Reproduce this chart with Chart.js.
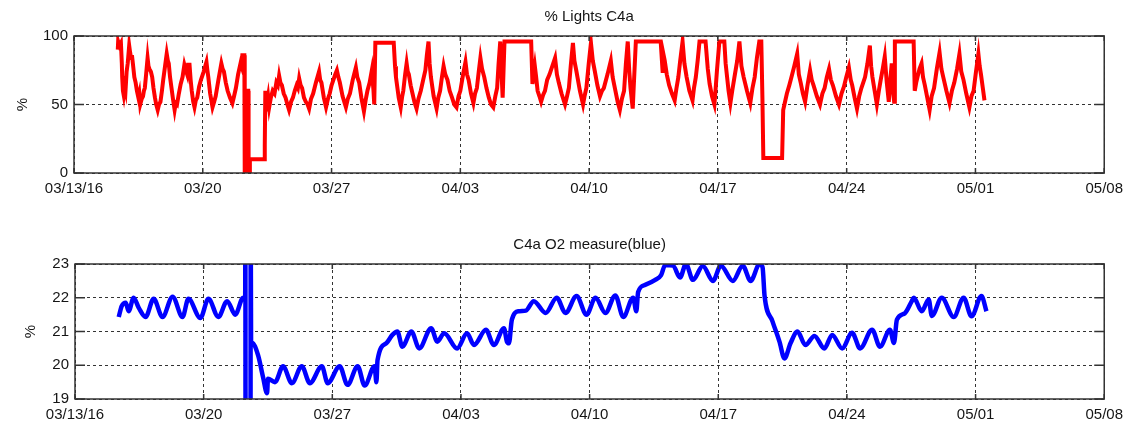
<!DOCTYPE html>
<html>
<head>
<meta charset="utf-8">
<script src="https://cdn.jsdelivr.net/npm/chart.js@4/dist/chart.umd.min.js"></script>
<style>
  html, body { margin: 0; padding: 0; background: #fff; }
  #wrap { position: relative; width: 1130px; height: 426px; }
  #lights { position: absolute; left: 0; top: 0; }
  #oxygen { position: absolute; left: 0; top: 228px; }
</style>
</head>
<body>
<div id="wrap">
  <canvas id="lights" width="1130" height="228"></canvas>
  <canvas id="oxygen" width="1130" height="198"></canvas>
</div>
<script>
// x = days since 03/13/16
const xTickLabels = ["03/13/16", "03/20", "03/27", "04/03", "04/10", "04/17", "04/24", "05/01", "05/08"];
const lightTitle = "% Lights C4a";
const oxygenTitle = "C4a O2 measure(blue)";
const lightTicks = [0, 50, 100];
const oxygenTicks = [19, 20, 21, 22, 23];

// [day, % lights]
const lightReadings = [
  [2.38, 90], [2.40, 96], [2.47, 93], [2.55, 95], [2.60, 80], [2.62, 70], [2.66, 60], [2.70, 57], [2.75, 63], [2.80, 60],
  [2.86, 74], [2.92, 80], [3.00, 93], [3.05, 88], [3.10, 84], [3.15, 86], [3.20, 80], [3.28, 70], [3.35, 66], [3.42, 60],
  [3.50, 55], [3.55, 58], [3.60, 50], [3.68, 54], [3.75, 56], [3.80, 60], [3.85, 62], [3.92, 72], [4.00, 84], [4.05, 78],
  [4.10, 76], [4.18, 74], [4.25, 70], [4.32, 62], [4.40, 55], [4.47, 50], [4.55, 46], [4.62, 50], [4.70, 52], [4.78, 60],
  [4.85, 68], [4.95, 78], [5.04, 87], [5.10, 82], [5.15, 80], [5.22, 70], [5.30, 62], [5.38, 54], [5.47, 46], [5.53, 51],
  [5.60, 50], [5.70, 58], [5.80, 65], [5.90, 70], [6.00, 79], [6.08, 75], [6.15, 72], [6.20, 79], [6.28, 79], [6.34, 68],
  [6.40, 60], [6.48, 52], [6.55, 48], [6.62, 53], [6.70, 55], [6.80, 63], [6.90, 68], [7.05, 74], [7.20, 81], [7.25, 75],
  [7.30, 70], [7.40, 58], [7.53, 48], [7.62, 52], [7.70, 56], [7.85, 68], [8.01, 80], [8.08, 76], [8.15, 74], [8.25, 66],
  [8.35, 60], [8.48, 55], [8.61, 51], [8.70, 56], [8.80, 62], [8.92, 72], [9.05, 80], [9.10, 78], [9.15, 86], [9.26, 86],
  [9.28, 0], [9.40, 0], [9.42, 60], [9.47, 60], [9.49, 0], [9.53, 0], [9.56, 10], [10.34, 10], [10.37, 20], [10.40, 60],
  [10.45, 55], [10.50, 52], [10.55, 56], [10.61, 48], [10.70, 55], [10.80, 60], [10.90, 58], [11.00, 66], [11.08, 64], [11.15, 71],
  [11.22, 66], [11.30, 64], [11.40, 58], [11.50, 55], [11.60, 50], [11.69, 46], [11.80, 52], [11.90, 55], [12.00, 60], [12.10, 64],
  [12.17, 62], [12.24, 69], [12.32, 64], [12.40, 62], [12.50, 55], [12.60, 52], [12.70, 50], [12.78, 47], [12.88, 54], [13.00, 58],
  [13.15, 66], [13.32, 74], [13.38, 68], [13.45, 66], [13.58, 55], [13.70, 48], [13.80, 54], [13.90, 58], [14.00, 64], [14.10, 68],
  [14.20, 72], [14.29, 75], [14.37, 70], [14.45, 66], [14.60, 56], [14.78, 48], [14.88, 54], [15.00, 58], [15.15, 68], [15.32, 77],
  [15.40, 70], [15.50, 66], [15.62, 55], [15.76, 45], [15.85, 53], [15.95, 60], [16.07, 66], [16.19, 75], [16.28, 60], [16.32, 50],
  [16.38, 95], [17.38, 95], [17.45, 78], [17.50, 70], [17.58, 62], [17.65, 55], [17.76, 48], [17.84, 56], [17.90, 60], [18.00, 72],
  [18.08, 80], [18.14, 74], [18.20, 72], [18.30, 64], [18.40, 58], [18.50, 52], [18.62, 47], [18.72, 54], [18.85, 60], [18.98, 68],
  [19.10, 75], [19.18, 86], [19.27, 96], [19.33, 80], [19.40, 70], [19.55, 56], [19.71, 47], [19.80, 55], [19.90, 60], [20.00, 70],
  [20.09, 78], [20.18, 72], [20.30, 68], [20.42, 60], [20.55, 55], [20.67, 50], [20.79, 48], [20.90, 56], [21.00, 60], [21.15, 72],
  [21.28, 81], [21.36, 72], [21.45, 68], [21.58, 58], [21.71, 51], [21.80, 58], [21.90, 62], [22.00, 74], [22.09, 84], [22.18, 76],
  [22.30, 70], [22.42, 62], [22.55, 55], [22.67, 50], [22.79, 48], [22.90, 56], [23.00, 62], [23.08, 80], [23.17, 96], [23.25, 70],
  [23.30, 55], [23.40, 96], [24.85, 96], [24.92, 65], [25.05, 78], [25.12, 70], [25.20, 60], [25.30, 56], [25.39, 52], [25.50, 57],
  [25.60, 60], [25.72, 68], [25.85, 72], [26.00, 78], [26.15, 84], [26.25, 72], [26.35, 66], [26.50, 58], [26.69, 50], [26.80, 56],
  [26.90, 62], [27.00, 78], [27.12, 95], [27.20, 82], [27.30, 75], [27.50, 60], [27.67, 50], [27.75, 56], [27.85, 62], [27.98, 80],
  [28.10, 95], [28.20, 82], [28.30, 75], [28.45, 64], [28.59, 56], [28.70, 60], [28.80, 62], [29.00, 72], [29.18, 82], [29.28, 70],
  [29.40, 62], [29.55, 52], [29.67, 46], [29.78, 54], [29.90, 60], [30.00, 80], [30.10, 96], [30.18, 75], [30.25, 62], [30.37, 47],
  [30.54, 96], [31.89, 96], [32.00, 73], [32.05, 86], [32.11, 82], [32.22, 72], [32.35, 64], [32.50, 58], [32.65, 53], [32.75, 62],
  [32.85, 70], [32.95, 82], [33.08, 96], [33.18, 80], [33.30, 70], [33.45, 60], [33.62, 53], [33.70, 62], [33.80, 70], [33.90, 82],
  [34.00, 96], [34.33, 96], [34.45, 76], [34.55, 65], [34.68, 56], [34.81, 50], [34.88, 62], [34.95, 75], [35.08, 96], [35.35, 96],
  [35.42, 80], [35.50, 70], [35.58, 60], [35.68, 51], [35.78, 60], [35.90, 70], [36.05, 82], [36.17, 96], [36.28, 78], [36.40, 70],
  [36.58, 60], [36.76, 51], [36.88, 62], [37.00, 70], [37.12, 84], [37.25, 96], [37.36, 96], [37.42, 55], [37.47, 11], [38.49, 11],
  [38.55, 46], [38.65, 52], [38.75, 58], [38.88, 64], [39.00, 70], [39.15, 78], [39.31, 87], [39.40, 72], [39.50, 66], [39.62, 58],
  [39.74, 52], [39.87, 64], [40.01, 75], [40.10, 68], [40.20, 64], [40.38, 56], [40.55, 50], [40.68, 58], [40.80, 62], [40.92, 70],
  [41.04, 76], [41.14, 68], [41.25, 64], [41.42, 56], [41.58, 50], [41.72, 58], [41.85, 63], [41.98, 70], [42.12, 77], [42.22, 68],
  [42.30, 64], [42.43, 55], [42.56, 47], [42.68, 56], [42.80, 62], [42.90, 66], [43.00, 70], [43.13, 80], [43.26, 93], [43.33, 78],
  [43.40, 70], [43.52, 60], [43.64, 50], [43.75, 60], [43.85, 68], [43.96, 76], [44.07, 85], [44.18, 66], [44.29, 52], [44.37, 68],
  [44.45, 80], [44.52, 60], [44.58, 52], [44.62, 96], [45.64, 96], [45.70, 60], [45.78, 66], [45.85, 70], [45.96, 76], [46.07, 80],
  [46.15, 70], [46.25, 64], [46.38, 55], [46.51, 46], [46.62, 56], [46.75, 62], [46.90, 76], [47.05, 88], [47.15, 76], [47.25, 70],
  [47.42, 60], [47.59, 51], [47.72, 60], [47.85, 66], [48.00, 76], [48.13, 87], [48.23, 74], [48.35, 68], [48.50, 58], [48.67, 48],
  [48.78, 56], [48.90, 60], [49.03, 74], [49.16, 87], [49.23, 78], [49.30, 72], [49.40, 62], [49.49, 53]
];

// [day, O2 %]
const oxygenReadings = [
  [2.38, 21.43], [2.54, 21.75], [2.76, 21.85], [2.92, 21.6], [3.19, 22.0], [3.47, 21.7], [3.84, 21.43], [4.28, 21.97], [4.76, 21.43], [5.31, 22.03],
  [5.85, 21.43], [6.17, 21.97], [6.82, 21.4], [7.26, 21.97], [7.80, 21.43], [8.28, 21.9], [8.72, 21.5], [9.15, 22.0], [9.26, 22.0], [9.27, 24.5],
  [9.28, 17.5], [9.55, 17.5], [9.56, 24.5], [9.58, 20.7], [9.64, 20.66], [9.96, 20.3], [10.23, 19.65], [10.45, 19.17], [10.50, 19.6], [10.88, 19.5],
  [11.32, 19.97], [11.80, 19.47], [12.34, 19.97], [12.78, 19.47], [13.43, 19.97], [13.75, 19.47], [14.40, 19.97], [14.83, 19.42], [15.38, 19.97], [15.76, 19.4],
  [16.30, 19.97], [16.40, 19.5], [16.46, 20.15], [16.95, 20.66], [17.27, 20.9], [17.54, 21.0], [17.81, 20.55], [18.30, 21.0], [18.73, 20.5], [19.38, 21.1],
  [19.71, 20.7], [20.09, 20.95], [20.79, 20.5], [21.33, 20.95], [21.71, 20.6], [22.36, 21.05], [22.79, 20.6], [23.34, 21.1], [23.50, 20.7], [23.61, 20.65],
  [23.77, 21.35], [24.15, 21.6], [24.53, 21.62], [24.96, 21.9], [25.61, 21.55], [26.21, 22.0], [26.69, 21.55], [27.29, 22.05], [27.83, 21.5], [28.32, 22.0],
  [28.86, 21.55], [29.40, 22.07], [29.83, 21.43], [30.37, 22.0], [30.54, 21.6], [30.64, 22.17], [31.02, 22.38], [31.57, 22.53], [31.89, 22.67], [32.11, 22.97],
  [32.54, 22.95], [32.92, 22.6], [33.24, 23.0], [33.62, 22.53], [34.16, 22.94], [34.71, 22.5], [35.14, 22.95], [35.79, 22.5], [36.33, 22.95], [36.76, 22.5],
  [37.25, 23.0], [37.41, 22.9], [37.52, 22.05], [37.95, 21.3], [38.33, 20.7], [38.60, 20.2], [38.93, 20.65], [39.31, 21.0], [39.74, 20.6], [40.23, 20.87],
  [40.77, 20.5], [41.20, 20.9], [41.74, 20.5], [42.28, 20.96], [42.72, 20.5], [43.37, 21.05], [43.80, 20.55], [44.34, 21.05], [44.56, 20.66], [44.72, 21.35],
  [45.15, 21.54], [45.53, 21.9], [45.64, 22.0], [46.07, 21.6], [46.45, 21.95], [46.62, 21.46], [47.16, 22.0], [47.81, 21.43], [48.35, 22.0], [48.78, 21.45],
  [49.32, 22.05], [49.59, 21.6]
];

const FONT = "'Liberation Sans', Arial, sans-serif";
const TEXT = "#151515";
const AXIS = "#333";

// matlab style box, inward tick marks and a title centred on the axes
const boxPlugin = {
  id: "matlabBox",
  afterDatasetsDraw(chart, args, opts) {
    const { ctx, chartArea: a, scales } = chart;
    ctx.save();
    ctx.strokeStyle = AXIS;
    ctx.lineWidth = 1.5;
    ctx.setLineDash([]);
    ctx.strokeRect(a.left, a.top, a.right - a.left, a.bottom - a.top);
    ctx.beginPath();
    for (const t of scales.x.ticks) {
      const px = scales.x.getPixelForValue(t.value);
      ctx.moveTo(px, a.bottom);
      ctx.lineTo(px, a.bottom - 5);
      ctx.moveTo(px, a.top);
      ctx.lineTo(px, a.top + 5);
    }
    for (const t of scales.y.ticks) {
      const py = scales.y.getPixelForValue(t.value);
      ctx.moveTo(a.left, py);
      ctx.lineTo(a.left + 10, py);
      ctx.moveTo(a.right, py);
      ctx.lineTo(a.right - 10, py);
    }
    ctx.stroke();

    ctx.fillStyle = TEXT;
    ctx.font = "15px " + FONT;
    ctx.textAlign = "center";
    ctx.textBaseline = "middle";
    ctx.fillText(opts.text, (a.left + a.right) / 2, a.top - 19);
    ctx.restore();
  },
};

function makeChart(canvas, cfg) {
  return new Chart(canvas, {
    type: "line",
    data: {
      datasets: [
        {
          data: cfg.readings.map(([d, v]) => ({ x: d, y: v })),
          borderColor: cfg.color,
          borderWidth: cfg.width,
          pointRadius: 0,
          tension: 0,
          cubicInterpolationMode: cfg.smooth ? "monotone" : "default",
          clip: 0,
        },
      ],
    },
    options: {
      responsive: false,
      animation: false,
      events: [],
      layout: { padding: { left: 0, right: cfg.padRight, top: 36, bottom: 0 } },
      plugins: {
        legend: { display: false },
        tooltip: { enabled: false },
        title: { display: false },
        matlabBox: { text: cfg.title },
      },
      scales: {
        x: {
          type: "linear",
          min: 0,
          max: 56,
          afterFit: (scale) => { scale.height = cfg.xHeight; },
          afterBuildTicks: (scale) => {
            scale.ticks = xTickLabels.map((_, i) => ({ value: i * 7 }));
          },
          ticks: {
            autoSkip: false,
            maxRotation: 0,
            padding: 7,
            color: TEXT,
            font: { family: FONT, size: 15 },
            callback: (value) => xTickLabels[Math.round(value / 7)],
          },
          grid: { color: AXIS, lineWidth: 1, drawTicks: false },
          border: { display: false, dash: [3, 3] },
        },
        y: {
          min: cfg.ticks[0],
          max: cfg.ticks[cfg.ticks.length - 1],
          afterFit: (scale) => { scale.width = cfg.yWidth; },
          afterBuildTicks: (scale) => {
            scale.ticks = cfg.ticks.map((v) => ({ value: v }));
          },
          ticks: {
            padding: 6,
            color: TEXT,
            font: { family: FONT, size: 15 },
          },
          title: {
            display: true,
            text: "%",
            color: TEXT,
            font: { family: FONT, size: 15, lineHeight: 1.2 },
            padding: { top: cfg.labelPad, bottom: 0 },
          },
          grid: { color: AXIS, lineWidth: 1, drawTicks: false },
          border: { display: false, dash: [3, 3] },
        },
      },
    },
    plugins: [boxPlugin],
  });
}

makeChart(document.getElementById("lights"), {
  readings: lightReadings,
  title: lightTitle,
  ticks: lightTicks,
  color: "rgb(255, 0, 0)",
  width: 4,
  smooth: false,
  padRight: 21,
  xHeight: 55,
  yWidth: 74,
  labelPad: 14,
});

makeChart(document.getElementById("oxygen"), {
  readings: oxygenReadings,
  title: oxygenTitle,
  ticks: oxygenTicks,
  color: "rgb(0, 0, 255)",
  width: 4.5,
  smooth: true,
  padRight: 20,
  xHeight: 27,
  yWidth: 75,
  labelPad: 22,
});
</script>
</body>
</html>
